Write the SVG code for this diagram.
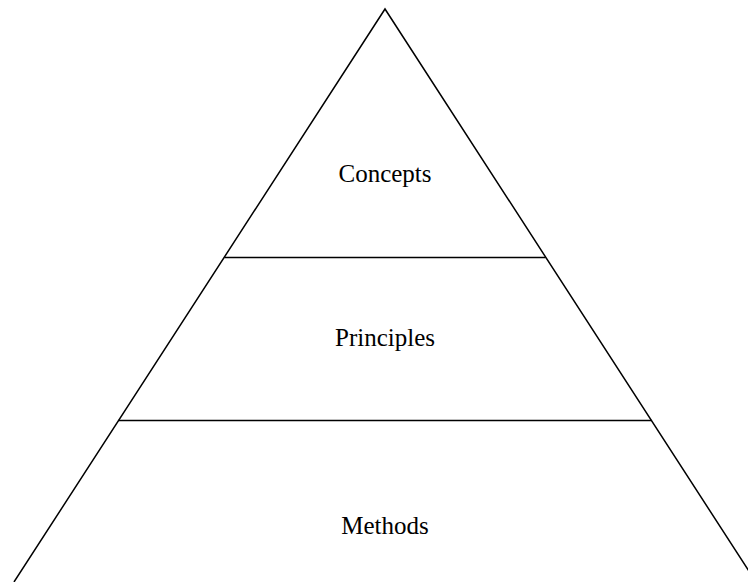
<svg xmlns="http://www.w3.org/2000/svg" width="748" height="582" viewBox="0 0 748 582">
<style>
.ln{stroke:#000;stroke-width:1.5;fill:none}
.t{font-family:"Liberation Serif","Times New Roman",serif;font-size:25px;fill:#000;text-anchor:middle}
</style>
<rect width="748" height="582" fill="#fff"/>
<g id="connectors">
<path class="ln" d="M14,582 L385,9 L756,582"/>
<line class="ln" x1="224.5" y1="257.5" x2="545.5" y2="257.5"/>
<line class="ln" x1="118.5" y1="420.5" x2="651.5" y2="420.5"/>
</g>
<g id="concepts"><text class="t" x="385" y="182">Concepts</text></g>
<g id="principles"><text class="t" x="385" y="346">Principles</text></g>
<g id="methods"><text class="t" x="385" y="534">Methods</text></g>
</svg>
